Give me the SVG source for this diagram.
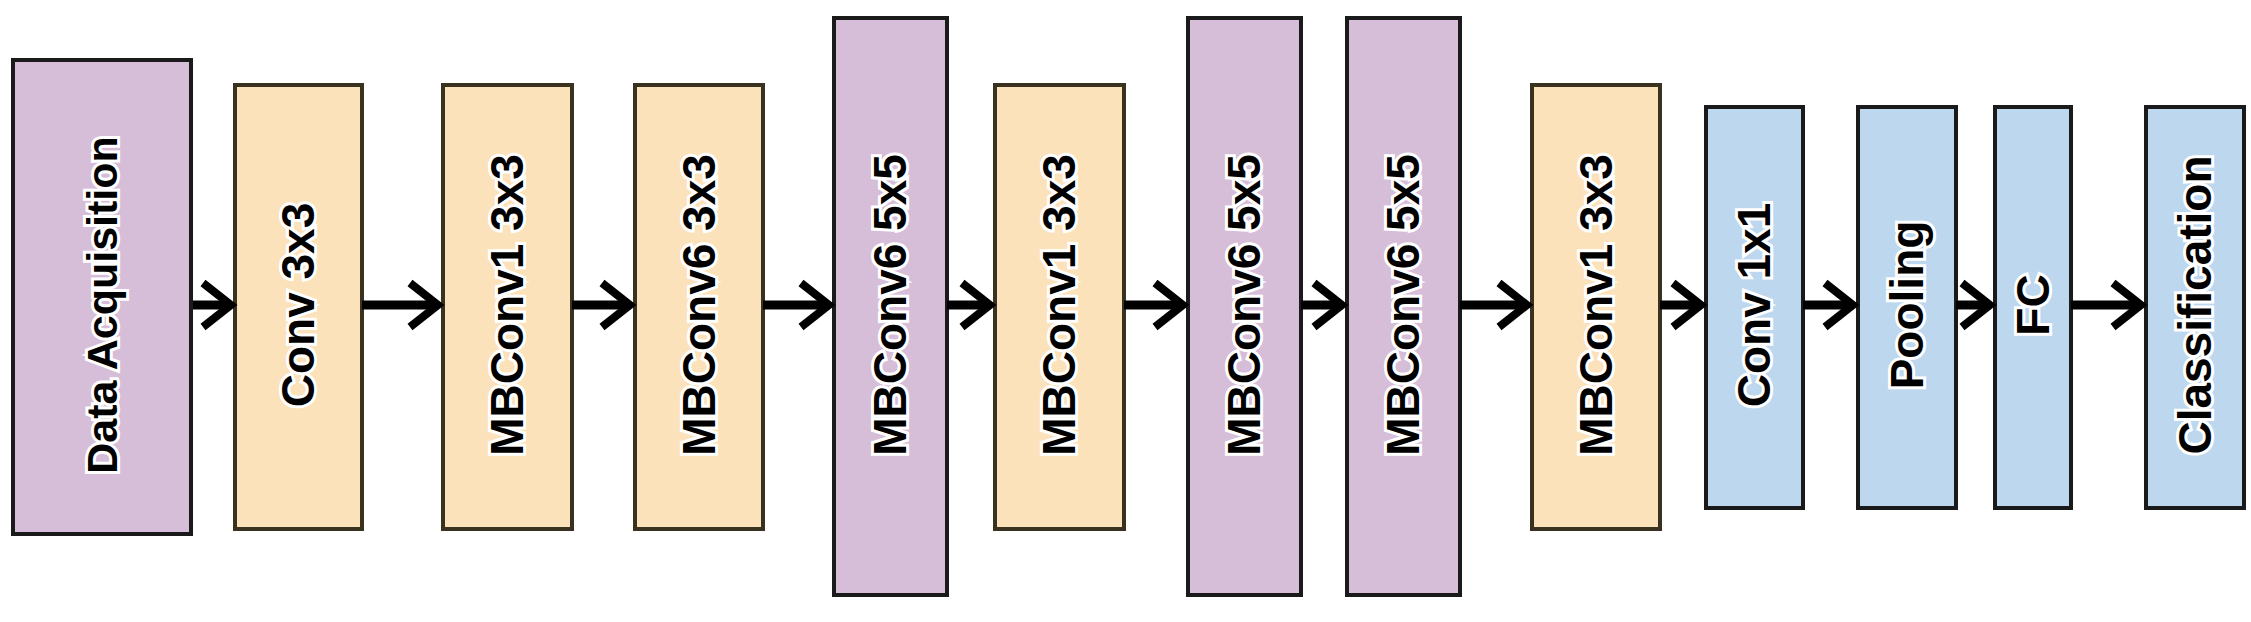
<svg xmlns="http://www.w3.org/2000/svg" width="2251" height="622" viewBox="0 0 2251 622">
<style>
.p{fill:#d6bdd8;stroke:#1a1a1a;stroke-width:4}
.o{fill:#fbe2bb;stroke:#3a3220;stroke-width:4}
.b{fill:#bdd7ee;stroke:#1a1a1a;stroke-width:4}
text{font-family:"Liberation Sans",Arial,sans-serif;font-weight:bold;font-size:46px;fill:#000;stroke:#fff;stroke-width:6;paint-order:stroke;text-anchor:middle;dominant-baseline:central}
.c line{stroke:#000;stroke-width:9}
.c path{fill:none;stroke:#000;stroke-width:8;stroke-linejoin:miter}
</style>
<rect width="2251" height="622" fill="#fff"/>
<g id="n1"><rect class="p" x="13" y="60" width="178" height="474"/><text transform="translate(102,305) rotate(-90)" style="font-size:43px">Data Acquisition</text></g>
<g id="n2"><rect class="o" x="235" y="85" width="127" height="444"/><text transform="translate(298,305) rotate(-90)">Conv 3x3</text></g>
<g id="n3"><rect class="o" x="443" y="85" width="129" height="444"/><text transform="translate(507,305) rotate(-90)">MBConv1 3x3</text></g>
<g id="n4"><rect class="o" x="635" y="85" width="128" height="444"/><text transform="translate(699,305) rotate(-90)">MBConv6 3x3</text></g>
<g id="n5"><rect class="p" x="834" y="18" width="113" height="577"/><text transform="translate(890,305) rotate(-90)">MBConv6 5x5</text></g>
<g id="n6"><rect class="o" x="995" y="85" width="129" height="444"/><text transform="translate(1059,305) rotate(-90)">MBConv1 3x3</text></g>
<g id="n7"><rect class="p" x="1188" y="18" width="113" height="577"/><text transform="translate(1244,305) rotate(-90)">MBConv6 5x5</text></g>
<g id="n8"><rect class="p" x="1347" y="18" width="113" height="577"/><text transform="translate(1403,305) rotate(-90)">MBConv6 5x5</text></g>
<g id="n9"><rect class="o" x="1532" y="85" width="128" height="444"/><text transform="translate(1596,305) rotate(-90)">MBConv1 3x3</text></g>
<g id="n10"><rect class="b" x="1706" y="107" width="97" height="401"/><text transform="translate(1754,305) rotate(-90)">Conv 1x1</text></g>
<g id="n11"><rect class="b" x="1858" y="107" width="98" height="401"/><text transform="translate(1907,305) rotate(-90)">Pooling</text></g>
<g id="n12"><rect class="b" x="1995" y="107" width="76" height="401"/><text transform="translate(2033,305) rotate(-90)">FC</text></g>
<g id="n13"><rect class="b" x="2146" y="107" width="98" height="401"/><text transform="translate(2195,305) rotate(-90)">Classification</text></g>
<g id="connectors" class="c">
<line x1="193" y1="305" x2="230" y2="305"/><path d="M203,283 L231,305 L203,327"/>
<line x1="362" y1="305" x2="436" y2="305"/><path d="M410,283 L438,305 L410,327"/>
<line x1="572" y1="305" x2="628" y2="305"/><path d="M602,283 L630,305 L602,327"/>
<line x1="763" y1="305" x2="827" y2="305"/><path d="M801,283 L829,305 L801,327"/>
<line x1="947" y1="305" x2="988" y2="305"/><path d="M962,283 L990,305 L962,327"/>
<line x1="1124" y1="305" x2="1181" y2="305"/><path d="M1155,283 L1183,305 L1155,327"/>
<line x1="1301" y1="305" x2="1340" y2="305"/><path d="M1314,283 L1342,305 L1314,327"/>
<line x1="1460" y1="305" x2="1525" y2="305"/><path d="M1499,283 L1527,305 L1499,327"/>
<line x1="1660" y1="305" x2="1699" y2="305"/><path d="M1673,283 L1701,305 L1673,327"/>
<line x1="1803" y1="305" x2="1851" y2="305"/><path d="M1825,283 L1853,305 L1825,327"/>
<line x1="1956" y1="305" x2="1988" y2="305"/><path d="M1962,283 L1990,305 L1962,327"/>
<line x1="2071" y1="305" x2="2139" y2="305"/><path d="M2113,283 L2141,305 L2113,327"/>
</g>
</svg>
